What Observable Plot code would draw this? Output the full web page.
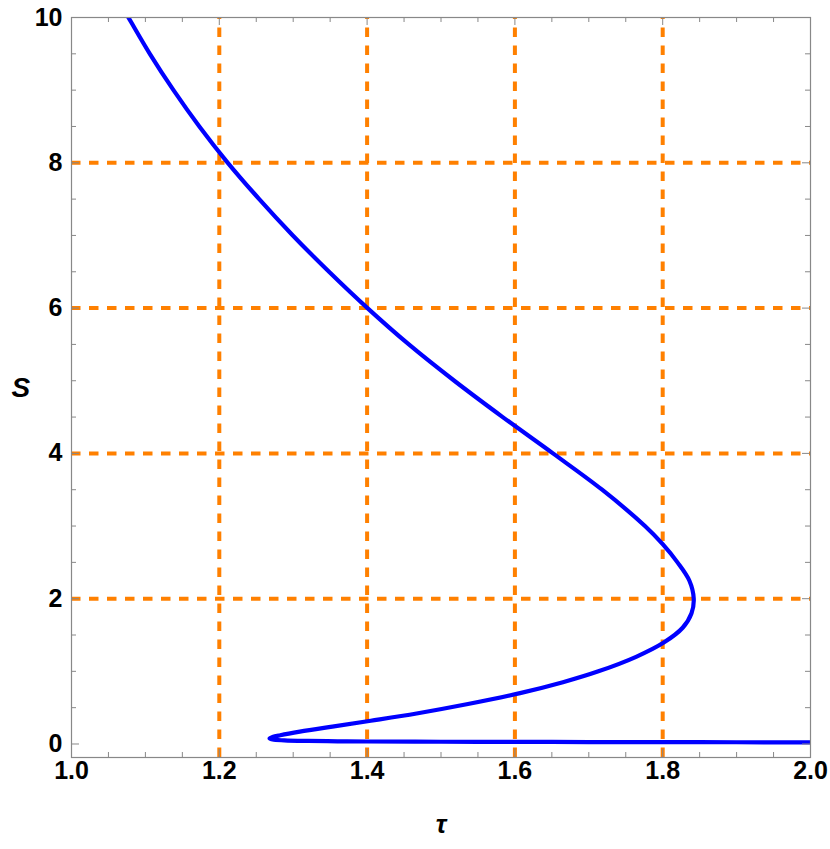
<!DOCTYPE html>
<html>
<head>
<meta charset="utf-8">
<script src="https://cdn.jsdelivr.net/npm/d3@7"></script>
<script src="https://cdn.jsdelivr.net/npm/@observablehq/plot@0.6"></script>
<style>
  html, body { margin: 0; padding: 0; background: #fff; }
  #chart svg { display: block; }
</style>
</head>
<body>
<div id="chart"></div>
<script>
// Curve: tau (x) and S (y), in order along the curve
const tau = [1.071, 1.077, 1.106, 1.138, 1.173, 1.2115, 1.254, 1.2995, 1.3485, 1.4005, 1.4565, 1.518,
             1.5835, 1.6515, 1.718, 1.776, 1.800, 1.820, 1.836, 1.842, 1.839, 1.827, 1.802, 1.764,
             1.713, 1.665, 1.607, 1.5365, 1.467, 1.405, 1.353, 1.309, 1.2825, 1.272, 1.268, 1.272,
             1.288, 1.320, 1.360, 1.400, 1.500, 1.600, 1.700, 1.800, 1.900, 2.000];
const S   = [10.10, 10.00, 9.50, 9.00, 8.50, 8.00, 7.50, 7.00, 6.50, 6.00, 5.50, 5.00,
             4.50, 4.00, 3.50, 3.00, 2.75, 2.50, 2.25, 2.00, 1.80, 1.60, 1.40, 1.20,
             1.00, 0.85, 0.70, 0.55, 0.42, 0.32, 0.24, 0.17, 0.12, 0.095, 0.076, 0.061,
             0.050, 0.042, 0.037, 0.034, 0.031, 0.029, 0.027, 0.025, 0.024, 0.022];

const xGrid = [1.2, 1.4, 1.6, 1.8];
const yGrid = [2, 4, 6, 8];
const xTickLabels = [1.0, 1.2, 1.4, 1.6, 1.8, 2.0];
const yTickLabels = [0, 2, 4, 6, 8, 10];
const xMinorTicks = d3.range(0, 21).map(i => 1 + i * 0.05).filter(v => !xTickLabels.some(m => Math.abs(m - v) < 1e-9));
const yMinorTicks = d3.range(0, 21).map(i => i * 0.5).filter(v => !yTickLabels.includes(v));

const xDomain = [1, 2];
const yDomain = [-0.186, 10];

const data = tau.map((t, i) => ({tau: t, S: S[i]}));

const W = 830, H = 849;
const mT = 17, mB = 92, mL = 71, mR = 20;
const innerH = H - mT - mB, innerW = W - mL - mR;
const majorLen = 8, minorLen = 5;
const tickColor = "#888";
const orange = "#ff8000";

const chart = Plot.plot({
  width: W,
  height: H,
  marginTop: mT,
  marginBottom: mB,
  marginLeft: mL,
  marginRight: mR,
  style: {fontFamily: "'Liberation Sans', Arial, sans-serif", background: "#fff"},
  x: {domain: xDomain},
  y: {domain: yDomain},
  marks: [
    // dashed orange grid
    Plot.ruleX(xGrid, {x: d => d, y1: yDomain[0], y2: yDomain[1], stroke: orange, strokeWidth: 4, strokeDasharray: "9.5,8.5"}),
    Plot.ruleY(yGrid, {y: d => d, x1: xDomain[0], x2: xDomain[1], stroke: orange, strokeWidth: 4, strokeDasharray: "9.5,8.5"}),
    // curve
    Plot.line(data, {x: "tau", y: "S", stroke: "#0000ff", strokeWidth: 4.2, curve: "catmull-rom", clip: true}),
    // inside ticks: bottom, top
    Plot.tickX(xTickLabels, {x: d => d, stroke: tickColor, insetTop: innerH - majorLen}),
    Plot.tickX(xMinorTicks, {x: d => d, stroke: tickColor, insetTop: innerH - minorLen}),
    Plot.tickX(xTickLabels, {x: d => d, stroke: tickColor, insetBottom: innerH - majorLen}),
    Plot.tickX(xMinorTicks, {x: d => d, stroke: tickColor, insetBottom: innerH - minorLen}),
    // inside ticks: left, right
    Plot.tickY(yTickLabels, {y: d => d, stroke: tickColor, insetRight: innerW - majorLen}),
    Plot.tickY(yMinorTicks, {y: d => d, stroke: tickColor, insetRight: innerW - minorLen}),
    Plot.tickY(yTickLabels, {y: d => d, stroke: tickColor, insetLeft: innerW - majorLen}),
    Plot.tickY(yMinorTicks, {y: d => d, stroke: tickColor, insetLeft: innerW - minorLen}),
    Plot.frame({stroke: tickColor, strokeWidth: 1.2}),
    // tick labels
    Plot.axisX(xTickLabels, {tickSize: 0, tickPadding: 4, tickFormat: d3.format(".1f"), fontSize: 25, fontWeight: "bold", fill: "#000", label: null}),
    Plot.axisY(yTickLabels, {tickSize: 0, tickPadding: 9, tickFormat: d => String(d), fontSize: 25, fontWeight: "bold", fill: "#000", label: null}),
    // axis titles
    Plot.text(["τ"], {frameAnchor: "bottom", dx: 0, dy: 75, text: d => d, fontSize: 26, fontWeight: "bold", fontStyle: "italic", fill: "#000"}),
    Plot.text(["S"], {frameAnchor: "left", dx: -60, dy: 1, text: d => d, fontSize: 28, fontWeight: "bold", fontStyle: "italic", fill: "#000"})
  ]
});
document.getElementById("chart").appendChild(chart);
</script>
</body>
</html>
